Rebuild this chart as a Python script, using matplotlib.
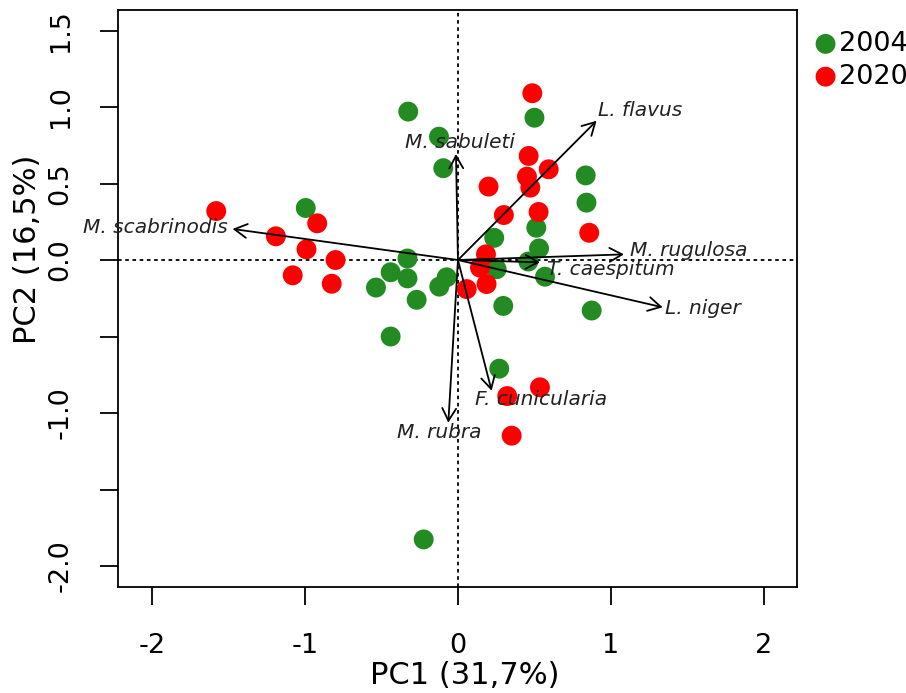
import matplotlib
matplotlib.use("Agg")
import matplotlib.pyplot as plt
import numpy as np

# ---------------- data ----------------
pc1_2004 = [-0.995, -0.33, -0.44, -0.33, -0.536, -0.27, -0.44, -0.325, 0.50, -0.124,
            -0.096, 0.835, 0.84, 0.512, 0.237, 0.53, 0.46, -0.074, -0.122, 0.253,
            0.569, 0.296, 0.874, 0.27, -0.224]
pc2_2004 = [0.34, 0.01, -0.08, -0.12, -0.18, -0.26, -0.50, 0.97, 0.93, 0.806,
            0.60, 0.553, 0.375, 0.211, 0.145, 0.076, -0.01, -0.113, -0.174, -0.06,
            -0.109, -0.30, -0.33, -0.71, -1.826]
pc1_2020 = [-1.58, -0.92, -1.19, -0.99, -0.80, -1.08, -0.825, 0.486, 0.462, 0.593,
            0.451, 0.473, 0.20, 0.30, 0.527, 0.858, 0.183, 0.144, 0.187, 0.057,
            0.536, 0.322, 0.351]
pc2_2020 = [0.32, 0.24, 0.155, 0.07, 0.0, -0.10, -0.155, 1.09, 0.68, 0.593,
            0.545, 0.473, 0.48, 0.294, 0.314, 0.178, 0.037, -0.05, -0.157, -0.19,
            -0.832, -0.889, -1.148]

species = ["M. scabrinodis", "M. sabuleti", "L. flavus", "M. rugulosa",
           "T. caespitum", "L. niger", "F. cunicularia", "M. rubra"]
load_pc1 = [-1.473, -0.013, 0.906, 1.085, 0.536, 1.338, 0.22, -0.063]
load_pc2 = [0.203, 0.693, 0.91, 0.037, -0.015, -0.309, -0.854, -1.063]

years = ["2004", "2020"]
x_ticks = [-2, -1, 0, 1, 2]
x_ticklabels = ["-2", "-1", "0", "1", "2"]
y_ticks = [1.5, 1.0, 0.5, 0.0, -0.5, -1.0, -1.5, -2.0]
y_ticklabels = ["1.5", "1.0", "0.5", "0.0", "", "-1.0", "", "-2.0"]
xlabel = "PC1 (31,7%)"
ylabel = "PC2 (16,5%)"

# ---------------- style ----------------
# label placement per species: (dx px, dy px, ha)
label_style = [(-5, 1, "right"), (4, 11, "center"), (1, 10, "left"), (6, 4, "left"),
               (7, -7, "left"), (2, -1, "left"), (-17, -9, "left"), (-9, -10, "center")]
col_2004 = "#228B22"
col_2020 = "#FF0000"

plt.rcParams['font.family'] = ['DejaVu Sans']
fig = plt.figure(figsize=(9.06, 6.93), dpi=100)
ax = fig.add_axes([118/906, 1-587/693, (797-118)/906, (587-10)/693])
ax.set_xlim(-2.222, 2.216)
ax.set_ylim(-2.137, 1.634)

ax.axhline(0, color="black", lw=1.3, linestyle=(0, (2, 2)), zorder=1)
ax.axvline(0, color="black", lw=1.3, linestyle=(0, (2, 2)), zorder=1)

msize = 205
ax.scatter(pc1_2004, pc2_2004, s=msize, color=col_2004, edgecolors="none", zorder=2, label=years[0])
ax.scatter(pc1_2020, pc2_2020, s=msize, color=col_2020, edgecolors="none", zorder=2, label=years[1])

for name, lx, ly, (dx, dy, ha) in zip(species, load_pc1, load_pc2, label_style):
    ax.annotate("", xy=(lx, ly), xytext=(0, 0),
                arrowprops=dict(arrowstyle="->,head_length=0.9,head_width=0.5",
                                lw=1.3, color="black", shrinkA=0, shrinkB=0,
                                mutation_scale=10), zorder=3)
    ax.annotate(name, xy=(lx, ly), xytext=(dx * 0.72, dy * 0.72), textcoords="offset points",
                ha=ha, va="center", fontsize=14.5, style="italic", color="#222222", zorder=4)

ax.set_xticks(x_ticks)
ax.set_xticklabels(x_ticklabels)
ax.set_yticks(y_ticks)
ax.set_yticklabels(y_ticklabels, rotation=90, va="center")
ax.tick_params(axis="both", direction="out", length=13, width=1.3, labelsize=19.5,
               colors="black")
ax.tick_params(axis="x", pad=20)
ax.tick_params(axis="y", pad=19)
for sp in ax.spines.values():
    sp.set_linewidth(1.3)

fig.text(465/906, 1-684/693, xlabel, ha="center", va="baseline", fontsize=22)
fig.text(28/906, 1-249/693, ylabel, ha="center", va="center", rotation=90, fontsize=22)

leg = ax.legend(loc="upper left", bbox_to_anchor=(812/906, 1-31/693), bbox_transform=fig.transFigure,
                frameon=False, fontsize=19.5, handletextpad=0.0, labelspacing=0.25,
                borderpad=0, borderaxespad=0, handlelength=1.0, markerscale=1.0)

fig.savefig("out.png", dpi=100)
